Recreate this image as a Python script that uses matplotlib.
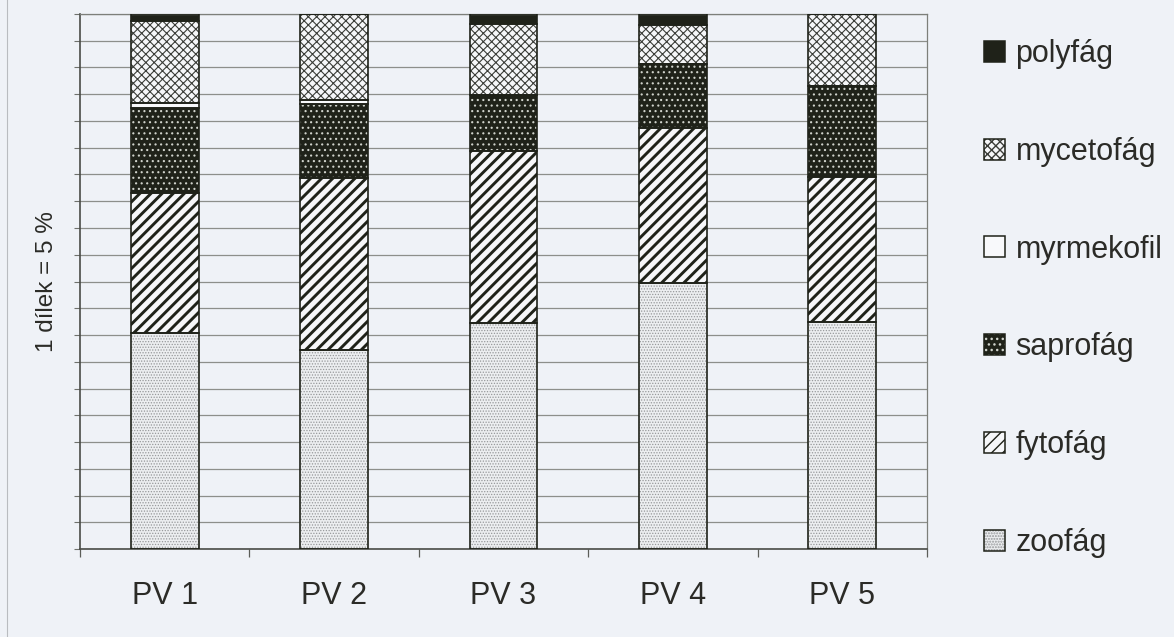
import matplotlib
matplotlib.use("Agg")
import numpy as np
import matplotlib.pyplot as plt
from matplotlib.patches import Patch
from matplotlib.lines import Line2D
from matplotlib.legend_handler import HandlerTuple

plt.rcParams.update({
    "font.family": ["Liberation Sans", "DejaVu Sans"],
    "font.size": 22,
})

# ---------------- data (percent of individuals per feeding group) ----------------
sites = ["PV 1", "PV 2", "PV 3", "PV 4", "PV 5"]
zoofag = [40.3, 37.2, 42.2, 49.8, 42.5]
fytofag = [26.2, 32.1, 32.2, 28.8, 27.1]
saprofag = [15.9, 13.9, 10.5, 12.0, 16.9]
myrmekofil = [0.9, 0.7, 0.0, 0.0, 0.0]
mycetofag = [15.4, 16.1, 13.2, 7.3, 13.5]
polyfag = [1.3, 0.0, 1.9, 2.1, 0.0]

groups = ["zoofág", "fytofág", "saprofág", "myrmekofil", "mycetofág", "polyfág"]
values = [zoofag, fytofag, saprofag, myrmekofil, mycetofag, polyfag]

# ---------------- styles ----------------
BG = "#eff2f7"
DARK = "#1f2219"
TXT = "#2b2b27"
# (face, hatch, hatch colour, hatch linewidth)
styles = {
    "zoofág":     ("#eceef0", "......", "#96989a", 0.6),
    "fytofág":    ("#f6f7f9", "///",    DARK,      2.1),
    "saprofág":   (DARK,      "...",    "#cfd2cb", 0.8),
    "myrmekofil": ("#f8f9fb", None,     None,      1.0),
    "mycetofág":  ("#f6f7f9", "xxxx",   "#3b3d38", 0.8),
    "polyfág":    (DARK,      None,     None,      1.0),
}


def hatched(ax_or_none, face, hatch, hcol, hlw, **bar_kw):
    """Return fill / hatch / outline layers, either as bars or as legend patches."""
    out = []
    with plt.rc_context({"hatch.linewidth": hlw}):
        if ax_or_none is None:
            out.append(Patch(facecolor=face, edgecolor="none", linewidth=0))
            if hatch:
                p = Patch(facecolor="none", edgecolor=hcol, hatch=hatch, linewidth=0)
                if hasattr(p, "set_hatch_linewidth"):
                    p.set_hatch_linewidth(hlw)
                out.append(p)
            out.append(Patch(facecolor="none", edgecolor=DARK, linewidth=1.1))
            return tuple(out)
        ax = ax_or_none
        ax.bar(color=face, edgecolor="none", linewidth=0, zorder=2, **bar_kw)
        if hatch:
            bc = ax.bar(color="none", edgecolor=hcol, hatch=hatch, linewidth=0, zorder=3, **bar_kw)
            for p in bc:
                if hasattr(p, "set_hatch_linewidth"):
                    p.set_hatch_linewidth(hlw)
        ax.bar(color="none", edgecolor=DARK, linewidth=1.2, zorder=4, **bar_kw)


fig = plt.figure(figsize=(11.74, 6.37), dpi=100, facecolor=BG)
ax = fig.add_axes([80 / 1174, 1 - 549 / 637, 847 / 1174, 535 / 637], facecolor=BG)

x = np.arange(len(sites))
bottom = np.zeros(len(sites))
for g, vals in zip(groups, values):
    face, hatch, hcol, hlw = styles[g]
    vals = np.asarray(vals, dtype=float)
    hatched(ax, face, hatch, hcol, hlw, x=x, height=vals, bottom=bottom, width=0.4)
    bottom += vals

ax.set_xlim(-0.5, len(sites) - 0.5)
ax.set_ylim(0, 100)

# gridlines every 5 %, no value labels
ax.set_yticks(np.arange(0, 101, 5))
ax.set_yticklabels([])
ax.tick_params(axis="y", direction="out", length=4, width=0.8, color="#6f716c")
ax.grid(axis="y", color="#8d8f8b", linewidth=0.9, zorder=0)
ax.set_axisbelow(True)

# labels at bar centres, tick marks between categories
ax.set_xticks(x)
ax.set_xticklabels(sites, color=TXT, fontsize=22)
ax.tick_params(axis="x", length=0, pad=23)
ax.set_xticks(np.arange(-0.5, len(sites)), minor=True)
ax.tick_params(axis="x", which="minor", direction="out", length=6, width=0.9, color="#5c5e59")

for side in ["left", "bottom"]:
    ax.spines[side].set_color("#4a4c47")
    ax.spines[side].set_linewidth(1.2)
for side in ["top", "right"]:
    ax.spines[side].set_color("#7d7f7a")
    ax.spines[side].set_linewidth(0.9)

ax.set_ylabel("1 dílek = 5 %", fontsize=17.5, color=TXT, labelpad=8)

# legend in reverse stacking order
handles = []
labels = []
for g in groups[::-1]:
    face, hatch, hcol, hlw = styles[g]
    handles.append(hatched(None, face, hatch, hcol, hlw))
    labels.append(g)
fig.legend(handles, labels, loc="upper left", bbox_to_anchor=(984 / 1174, 1 - 39 / 637),
           frameon=False, fontsize=22, handler_map={tuple: HandlerTuple(ndivide=1, pad=0)},
           handlelength=0.68, handleheight=0.68, handletextpad=0.35, labelspacing=2.22,
           borderpad=0, borderaxespad=0, labelcolor=TXT)

# thin page edge on the left
fig.add_artist(Line2D([7 / 1174, 7 / 1174], [0, 1], color="#b9bcc0", linewidth=0.8))

fig.savefig("out.png", dpi=100, facecolor=BG)
